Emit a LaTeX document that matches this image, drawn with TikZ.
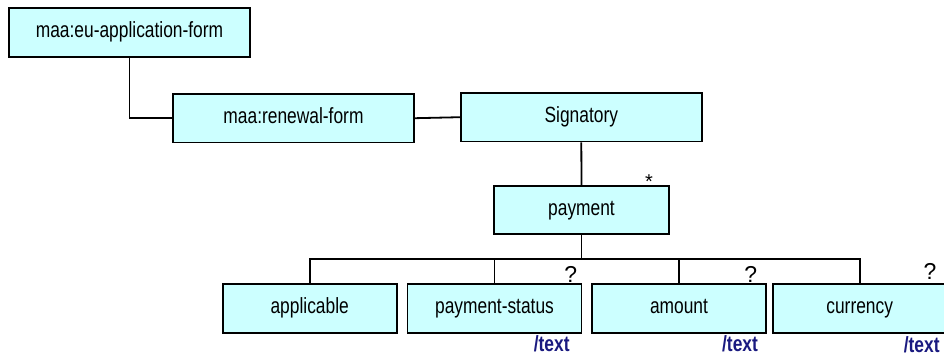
\documentclass[tikz,border=0pt]{standalone}
\usepackage{fontspec}
\setmainfont{Liberation Sans}[FakeStretch=0.79]
\newfontfamily\plainsans{Liberation Sans}
\begin{document}
\begin{tikzpicture}[x=1pt,y=-1pt,
  box/.style={draw=black,line width=1.8pt,fill=boxfill,inner sep=0pt,
    text height=16pt,text depth=6pt,
    font=\fontsize{22}{26}\selectfont},
  wide/.style={minimum width=241pt,minimum height=48.7pt},
  narrow/.style={minimum width=174pt,minimum height=48.4pt},
  conn/.style={draw=black,line width=1.8pt},
  cardlabel/.style={inner sep=0pt,font=\plainsans\fontsize{23}{27}\selectfont},
  typ/.style={inner sep=0pt,text=textblue,font=\fontsize{22}{26}\selectfont\bfseries}]
\definecolor{boxfill}{HTML}{CCFFFF}
\definecolor{textblue}{HTML}{1A1A80}
\useasboundingbox (0,0) rectangle (944,358);
\node[box,wide] (form) at (129.5,32.7) {maa:eu-application-form};
\node[box,wide] (renewal) at (293.5,118.2) {maa:renewal-form};
\node[box,wide] (sig) at (581.3,117.2) {Signatory};
\node[box,minimum width=175pt,minimum height=48.6pt] (pay) at (581.5,210) {payment};
\node[box,narrow] (appl) at (309.7,308.5) {applicable};
\node[box,narrow] (pstat) at (494.5,308.5) {payment-status};
\node[box,narrow] (amt) at (679,308.5) {amount};
\node[box,narrow] (cur) at (859.7,308.5) {currency};
\coordinate (bus) at (581.5,259.3);
\draw[conn] (form.south) |- (renewal.west);
\draw[conn] (renewal.east) -- (sig.west);
\draw[conn] (sig.south) -- (pay.north);
\draw[conn] (pay.south) -- (bus);
\draw[conn] (appl.north) |- (bus) -| (cur.north);
\draw[conn] (pstat.north) -- (pstat.north |- bus);
\draw[conn] (amt.north) -- (amt.north |- bus);
\node[cardlabel,font=\plainsans\fontsize{20}{24}\selectfont] (star) at (649,182) {*};
\node[cardlabel] (q1) at (570.7,274) {?};
\node[cardlabel] (q2) at (750.7,274) {?};
\node[cardlabel] (q3) at (930,271) {?};
\node[typ] (t1) at (551.7,344) {/text};
\node[typ] (t2) at (740,344) {/text};
\node[typ] (t3) at (921.7,345) {/text};
\end{tikzpicture}
\end{document}
